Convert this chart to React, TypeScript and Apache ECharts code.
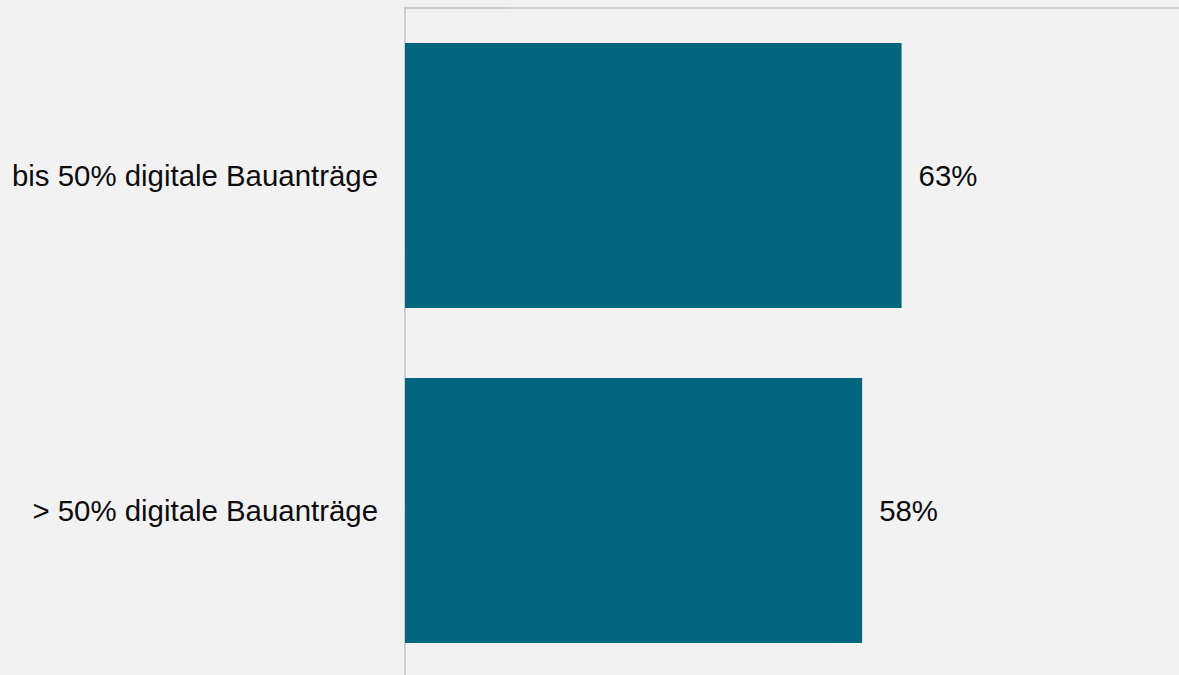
import React, { useEffect, useRef } from "react";
import * as echarts from "echarts";

const categories = ["bis 50% digitale Bauanträge", "> 50% digitale Bauanträge"];
const values = [63, 58];

export default function App() {
  const ref = useRef<HTMLDivElement>(null);
  useEffect(() => {
    if (!ref.current) return;
    const chart = echarts.init(ref.current, undefined, { renderer: "svg" });
    chart.setOption({
      animation: false,
      backgroundColor: "#f2f2f2",
      grid: { left: 405, top: 8, right: 0, height: 670, containLabel: false },
      xAxis: {
        type: "value",
        position: "top",
        min: 0,
        max: 98.2,
        axisLine: { show: true, lineStyle: { color: "#c0c0c0", width: 1.5 } },
        axisTick: { show: false },
        axisLabel: { show: false },
        splitLine: { show: false },
      },
      yAxis: {
        type: "category",
        data: categories,
        inverse: true,
        axisLine: { show: true, lineStyle: { color: "#c0c0c0", width: 1.5 } },
        axisTick: { show: false },
        axisLabel: {
          margin: 27,
          fontSize: 29.4,
          color: "#0d0d0d",
          fontFamily: "Liberation Sans, Arial, sans-serif",
        },
      },
      series: [
        {
          type: "bar",
          data: values,
          barWidth: 265,
          itemStyle: { color: "#03667f" },
          label: {
            show: true,
            position: "right",
            distance: 17,
            formatter: "{c}%",
            fontSize: 29.4,
            color: "#0d0d0d",
            fontFamily: "Liberation Sans, Arial, sans-serif",
          },
        },
      ],
    });
    return () => chart.dispose();
  }, []);
  return (
    <div
      style={{
        position: "fixed",
        left: 0,
        top: 0,
        width: 1179,
        height: 675,
        overflow: "hidden",
        background: "#f2f2f2",
      }}
    >
      <div ref={ref} style={{ width: 1179, height: 690 }} />
    </div>
  );
}
